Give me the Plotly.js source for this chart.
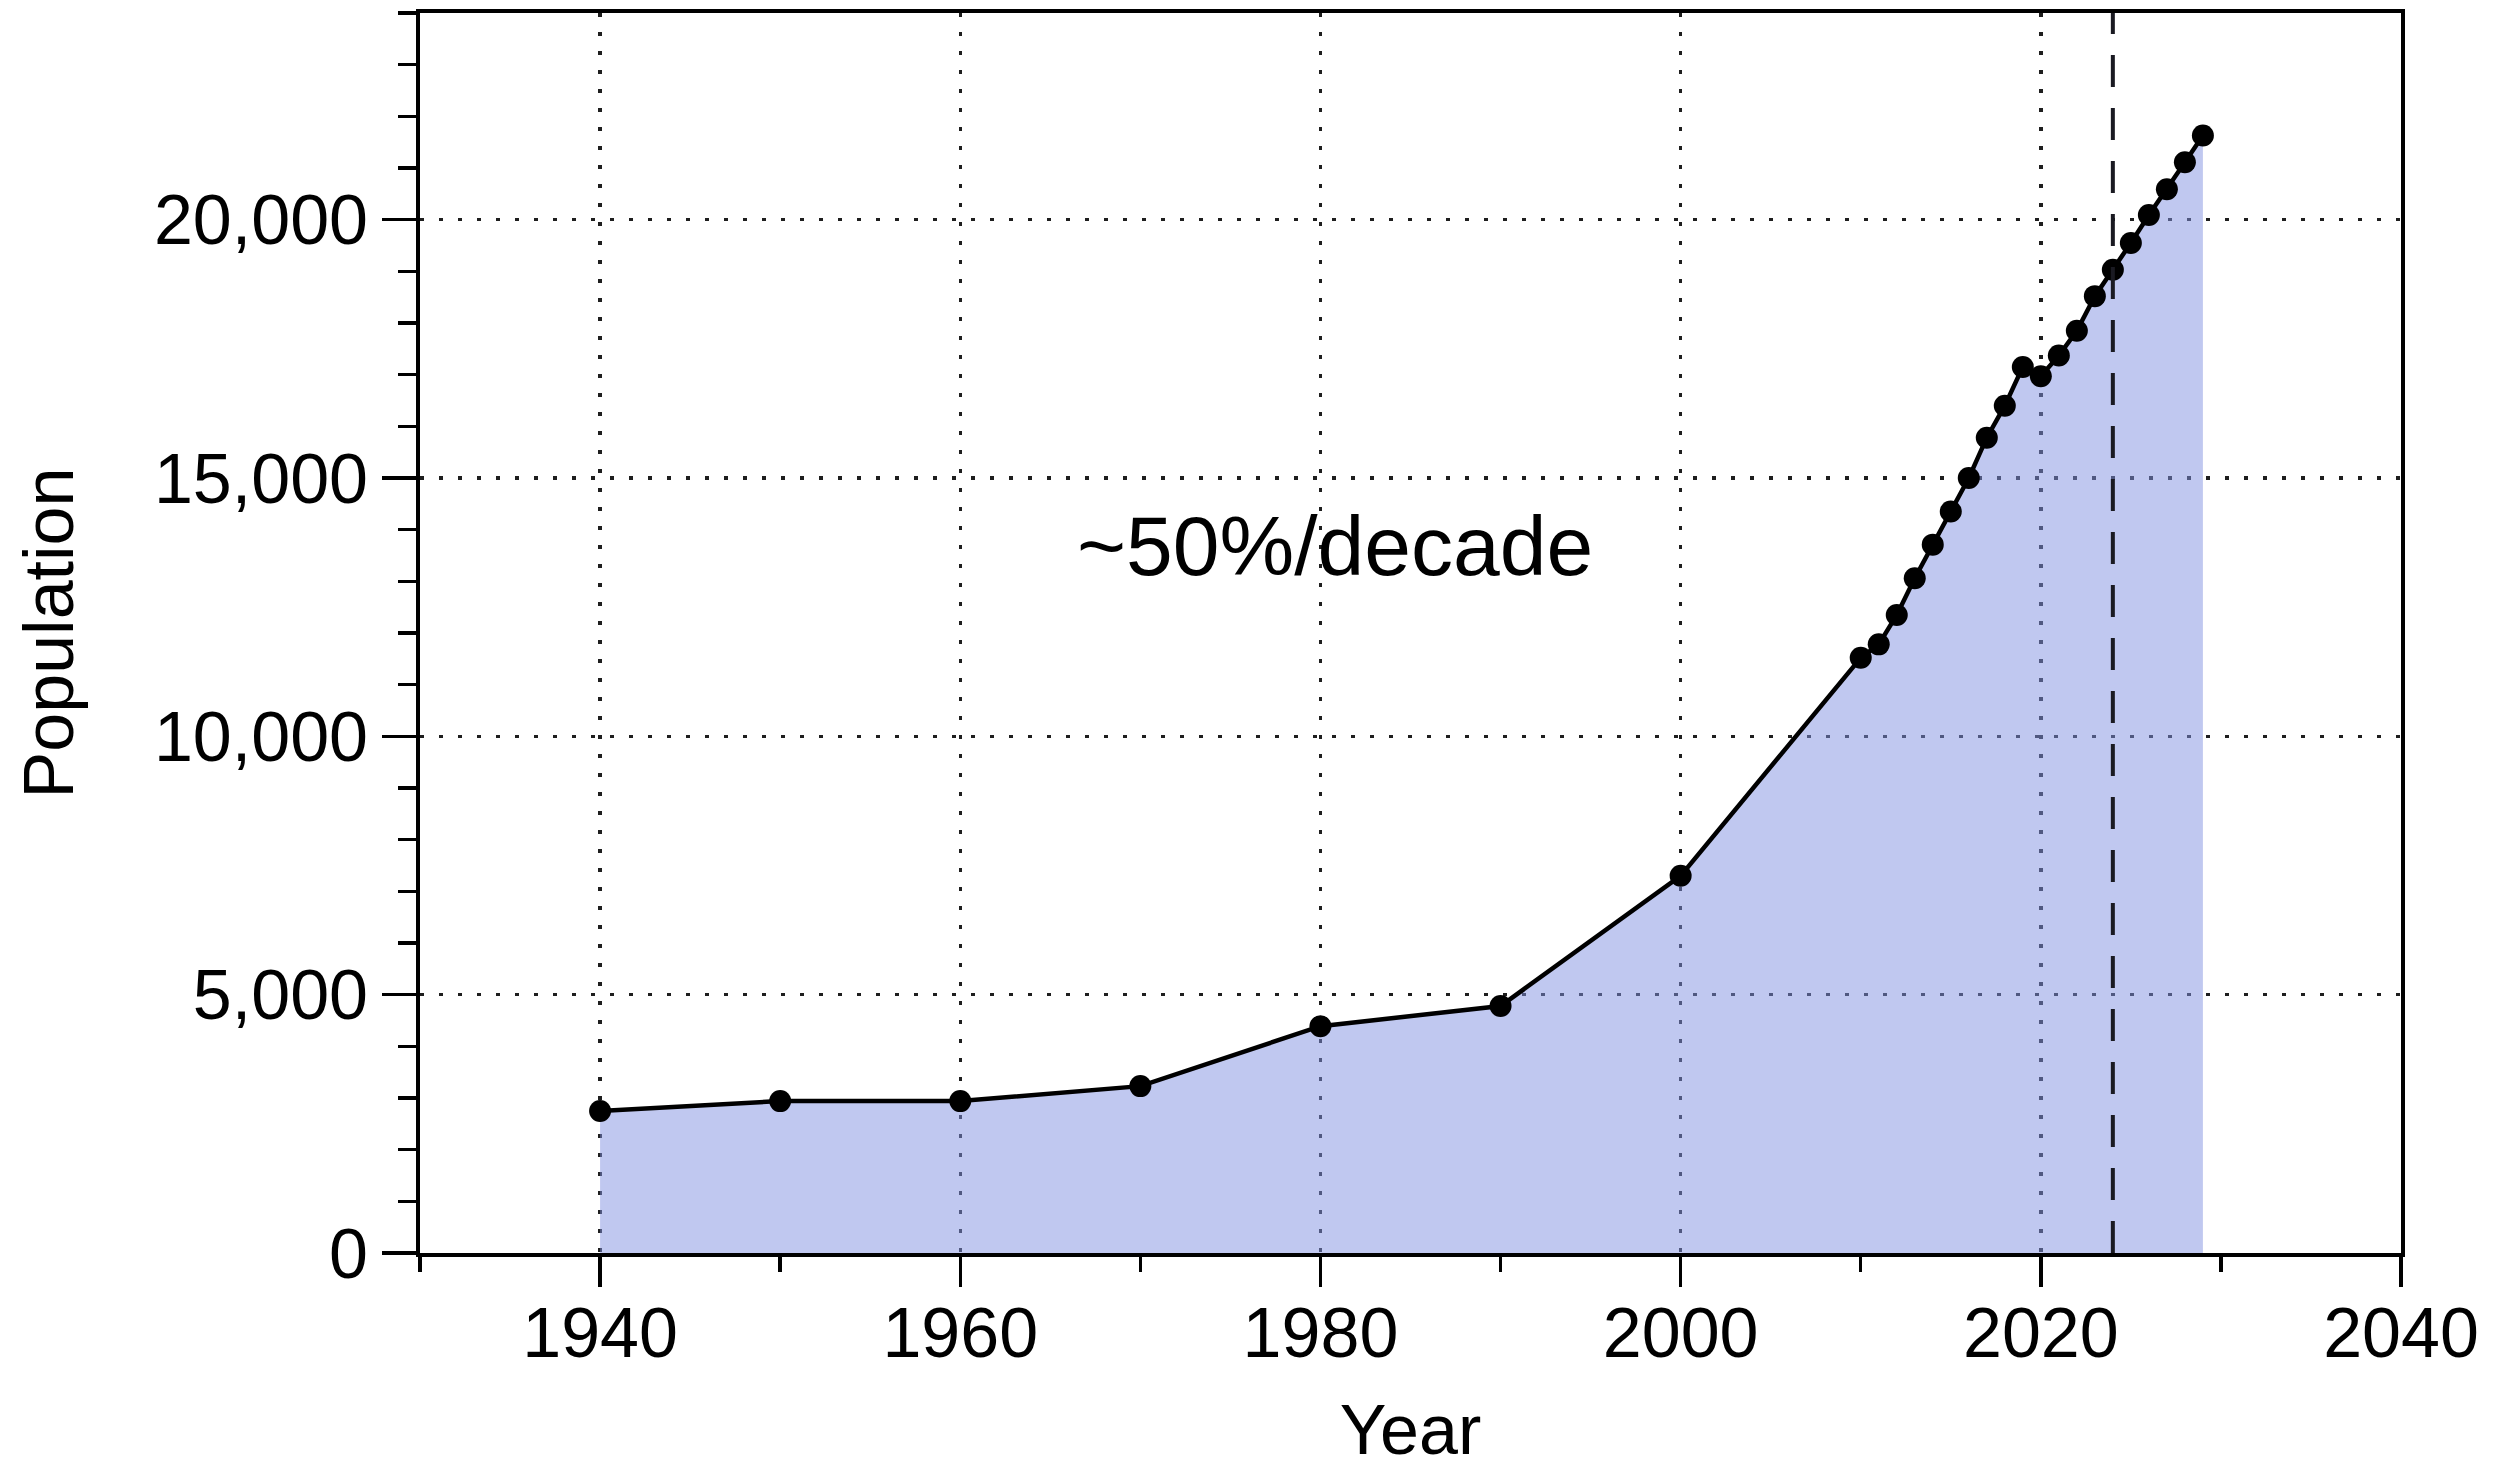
<!DOCTYPE html>
<html>
<head>
<meta charset="utf-8">
<script src="https://cdn.plot.ly/plotly-3.0.1.min.js"></script>
<style>
  html, body { margin: 0; padding: 0; background: #ffffff; }
  #chart { width: 2512px; height: 1469px; }
</style>
</head>
<body>
<div id="chart"></div>
<script>
// ---- Data ----
const years = [1940, 1950, 1960, 1970, 1980, 1990, 2000,
               2010, 2011, 2012, 2013, 2014, 2015, 2016, 2017, 2018, 2019,
               2020, 2021, 2022, 2023, 2024, 2025, 2026, 2027, 2028, 2029];
const population = [2750, 2940, 2940, 3230, 4390, 4780, 7300,
                    11520, 11780, 12350, 13060, 13710, 14350, 15000, 15780, 16400, 17150,
                    16970, 17370, 17850, 18520, 19030, 19550, 20090, 20590, 21110, 21630];
const xTickVals = [1940, 1960, 1980, 2000, 2020, 2040];
const yTickVals = [0, 5000, 10000, 15000, 20000];
const markerYear = 2024;
const annotationText = "~50%/decade";
const annotationPos = {x: 1980.8, y: 13680};
const xTitle = "Year";
const yTitle = "Population";

const FONT = "Liberation Sans, Arial, Helvetica, sans-serif";

const trace = {
  x: years,
  y: population,
  type: "scatter",
  mode: "lines+markers",
  fill: "tozeroy",
  fillcolor: "rgba(130,145,225,0.5)",
  line: {color: "#000000", width: 4.5},
  marker: {color: "#000000", size: 22},
  hoverinfo: "x+y",
  showlegend: false
};

const axisCommon = {
  showline: true,
  linecolor: "#000000",
  linewidth: 4,
  mirror: true,
  ticks: "outside",
  tickcolor: "#000000",
  tickwidth: 3.5,
  ticklen: 34,
  showgrid: true,
  gridcolor: "#1e1e1e",
  gridwidth: 3.5,
  griddash: "4px,15px",
  zeroline: false,
  tickfont: {family: FONT, size: 70, color: "#000000"}
};

const layout = {
  width: 2512,
  height: 1469,
  paper_bgcolor: "#ffffff",
  plot_bgcolor: "#ffffff",
  margin: {l: 420, r: 111, t: 13, b: 216},
  font: {family: FONT, color: "#000000"},
  separators: ".,",
  xaxis: Object.assign({}, axisCommon, {
    range: [1930, 2040],
    tickmode: "array",
    tickvals: xTickVals,
    ticktext: xTickVals.map(String),
    ticklen: 30,
    ticklabelstandoff: -14,
    minor: {dtick: 10, tick0: 1930, ticklen: 15, tickwidth: 3.5, tickcolor: "#000000", ticks: "outside", showgrid: false},
    title: {text: xTitle, font: {family: FONT, size: 70, color: "#000000"}, standoff: 68}
  }),
  yaxis: Object.assign({}, axisCommon, {
    range: [0, 24000],
    tickmode: "array",
    tickvals: yTickVals,
    tickformat: ",d",
    minor: {dtick: 1000, tick0: 0, ticklen: 18, tickwidth: 3.5, tickcolor: "#000000", ticks: "outside", showgrid: false},
    title: {text: yTitle, font: {family: FONT, size: 70, color: "#000000"}, standoff: 58}
  }),
  shapes: [{
    type: "line",
    xref: "x", yref: "paper",
    x0: markerYear, x1: markerYear, y0: 0, y1: 1,
    line: {color: "#1a1a22", width: 4, dash: "32px,21px"},
    layer: "above"
  }],
  annotations: [{
    x: annotationPos.x, y: annotationPos.y,
    xref: "x", yref: "y",
    text: annotationText,
    showarrow: false,
    font: {family: FONT, size: 84, color: "#000000"},
    xanchor: "center", yanchor: "middle"
  }]
};

Plotly.newPlot("chart", [trace], layout, {displayModeBar: false, staticPlot: true});
</script>
</body>
</html>
